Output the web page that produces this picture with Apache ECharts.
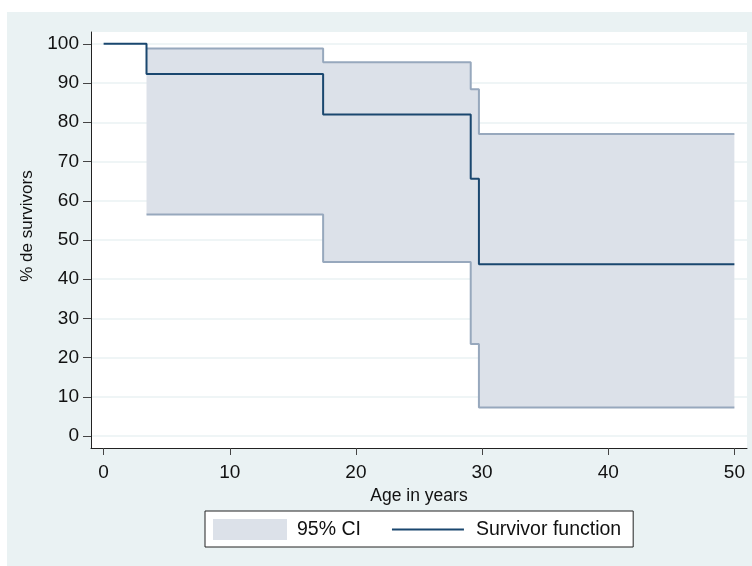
<!DOCTYPE html>
<html>
<head>
<meta charset="utf-8">
<script src="https://cdn.jsdelivr.net/npm/echarts@6/dist/echarts.min.js"></script>
<style>
  html, body { margin: 0; padding: 0; background: #ffffff; }
  #chart { position: absolute; left: 7px; top: 12px; width: 745px; height: 554px; background: #EAF2F3; }
</style>
</head>
<body>
<div id="chart"></div>
<script>
// Survivor function (Kaplan-Meier), step changes at these ages
const survTimes  = [0, 3.4, 17.4, 29.1, 29.75, 50];
const survValues = [100, 92.3, 82.0, 65.6, 43.8, 43.8];

// 95% confidence interval bounds
const ciTimes  = [3.4, 17.4, 29.1, 29.75, 50];
const ciLower  = [56.5, 44.4, 23.5, 7.3, 7.3];
const ciUpper  = [98.8, 95.3, 88.4, 77.0, 77.0];

const yTicks = [0, 10, 20, 30, 40, 50, 60, 70, 80, 90, 100];
const xTicks = [0, 10, 20, 30, 40, 50];

const names = { ci: '95% CI', surv: 'Survivor function' };
const xTitle = 'Age in years';
const yTitle = '% de survivors';

const FONT = '"Liberation Sans", Arial, Helvetica, sans-serif';
const NAVY = '#1A476F';
const BAND = '#DCE1E9';
const BAND_EDGE = '#97A8BD';

// value first, time second, so the stack runs along the y dimension
const survData = survTimes.map((t, i) => [survValues[i], t]);
const lowerData = ciTimes.map((t, i) => [ciLower[i], t]);
const diffData = ciTimes.map((t, i) => [ciUpper[i] - ciLower[i], t]);
const enc = { x: 1, y: 0 };

const chart = echarts.init(document.getElementById('chart'), null, { renderer: 'canvas' });
chart.setOption({
  animation: false,
  backgroundColor: '#EAF2F3',
  textStyle: { fontFamily: FONT },
  grid: {
    left: 84, right: 5, top: 20, bottom: 118,
    show: true, backgroundColor: '#ffffff', borderWidth: 0
  },
  legend: {
    left: 198, top: 499,
    orient: 'horizontal',
    backgroundColor: '#ffffff',
    borderColor: '#222222', borderWidth: 1, borderRadius: 0,
    padding: [8, 12, 7, 8],
    itemWidth: 79, itemHeight: 21, itemGap: 31,
    selectedMode: false,
    textStyle: { fontFamily: FONT, fontSize: 19.5, color: '#111111' },
    itemStyle: { borderWidth: 0 },
    data: [
      { name: names.ci, icon: 'path://M0,0L74,0L74,21L0,21Z M79,21L79,21', itemStyle: { color: BAND, borderWidth: 0 } },
      { name: names.surv, icon: 'path://M0,0L0,0 M0,9.5L72,9.5L72,11.5L0,11.5Z M79,21L79,21', itemStyle: { color: NAVY, borderWidth: 0 } }
    ]
  },
  xAxis: {
    type: 'value', min: -1, max: 51,
    name: xTitle, nameLocation: 'middle', nameGap: 39,
    nameTextStyle: { fontFamily: FONT, fontSize: 17.5, color: '#111111' },
    axisLine: { show: true, onZero: false, lineStyle: { color: '#222222', width: 1 } },
    axisTick: { show: true, length: 7, customValues: xTicks, lineStyle: { color: '#444444', width: 1 } },
    axisLabel: { customValues: xTicks, margin: 15, fontFamily: FONT, fontSize: 19, color: '#111111' },
    splitLine: { show: false }
  },
  yAxis: {
    type: 'value', min: -3, max: 103, interval: 10,
    name: yTitle, nameLocation: 'middle', nameGap: 55, nameRotate: 90,
    nameTextStyle: { fontFamily: FONT, fontSize: 17, color: '#111111', padding: [0, 0, 0, 28] },
    axisLine: { show: true, onZero: false, lineStyle: { color: '#222222', width: 1 } },
    axisTick: { show: true, length: 8, customValues: yTicks, lineStyle: { color: '#444444', width: 1 } },
    axisLabel: { customValues: yTicks, margin: 12, fontFamily: FONT, fontSize: 19, color: '#111111' },
    splitLine: { show: true, lineStyle: { color: '#EAF2F3', width: 1.5 } }
  },
  series: [
    {
      name: '_lower', type: 'line', stack: 'ci', step: 'end',
      data: lowerData, encode: enc, symbol: 'none', z: 3,
      lineStyle: { color: BAND_EDGE, width: 2 },
      itemStyle: { color: BAND_EDGE },
      silent: true
    },
    {
      name: names.ci, type: 'line', stack: 'ci', step: 'end',
      data: diffData, encode: enc, symbol: 'none', z: 2,
      lineStyle: { color: BAND_EDGE, width: 2 },
      itemStyle: { color: BAND },
      areaStyle: { color: BAND, opacity: 1 },
      silent: true
    },
    {
      name: names.surv, type: 'line', step: 'end',
      data: survData, encode: enc, symbol: 'none', z: 4,
      lineStyle: { color: NAVY, width: 2 },
      itemStyle: { color: NAVY },
      silent: true
    }
  ]
});
</script>
</body>
</html>
